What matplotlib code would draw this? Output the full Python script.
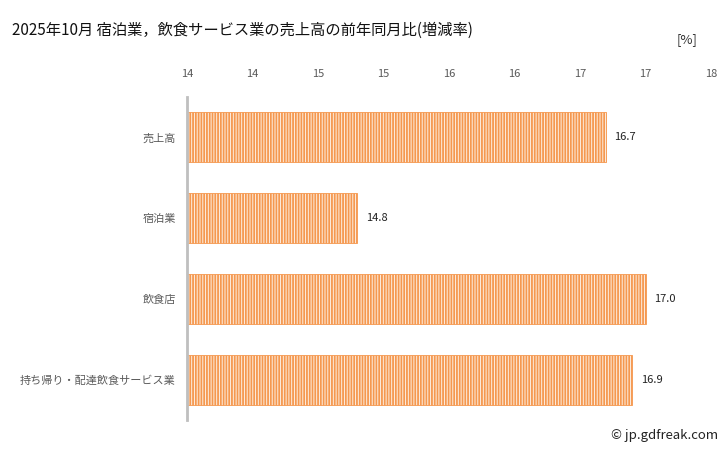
import matplotlib
matplotlib.use("Agg")
import matplotlib.pyplot as plt

plt.rcParams['font.family'] = ['Noto Sans CJK JP', 'DejaVu Sans']
plt.rcParams['hatch.linewidth'] = 1.3

categories = ['売上高', '宿泊業', '飲食店', '持ち帰り・配達飲食サービス業']
values = [16.7, 14.8, 17.0, 16.9]
tick_values = [13.5, 14.0, 14.5, 15.0, 15.5, 16.0, 16.5, 17.0, 17.5]
tick_labels = ['14', '14', '15', '15', '16', '16', '17', '17', '18']
title = '2025年10月 宿泊業，飲食サービス業の売上高の前年同月比(増減率)'

fig = plt.figure(figsize=(7.28, 4.51), dpi=100)
ax = fig.add_axes([187/728, 1-420/451, (711-187)/728, (420-97)/451])

ypos = list(range(len(categories)))
ax.barh(ypos, [v - 13.5 for v in values], left=13.5, height=0.62,
        facecolor='#fdf0e4', edgecolor='#f5984f', linewidth=0.6, hatch='||||||')

for y, v in zip(ypos, values):
    ax.annotate(f'{v:.1f}', xy=(v, y), xytext=(6, 0), textcoords='offset points',
                ha='left', va='center', fontsize=8, color='#222222')

ax.set_xlim(13.5, 17.5)
ax.set_ylim(len(categories) - 0.5, -0.5)
ax.set_yticks(ypos)
ax.set_yticklabels(categories, fontsize=8, color='#595959')
ax.set_xticks(tick_values)
ax.set_xticklabels(tick_labels, fontsize=8, color='#595959')
ax.xaxis.tick_top()
ax.tick_params(axis='x', length=0, pad=13)
ax.tick_params(axis='y', length=0, pad=8)
for s in ['top', 'right', 'bottom']:
    ax.spines[s].set_visible(False)
ax.spines['left'].set_color('#bfbfbf')
ax.spines['left'].set_linewidth(2)

fig.text(12/728, 1-30/451, title, fontsize=11, color='#111111', va='center', ha='left')
fig.text(698/728, 1-40/451, '[%]', fontsize=9.5, color='#333333', va='center', ha='right')
fig.text(718/728, 1-436/451, '© jp.gdfreak.com', fontsize=9.5, color='#222222', va='center', ha='right')

fig.savefig('out.png', dpi=100)
